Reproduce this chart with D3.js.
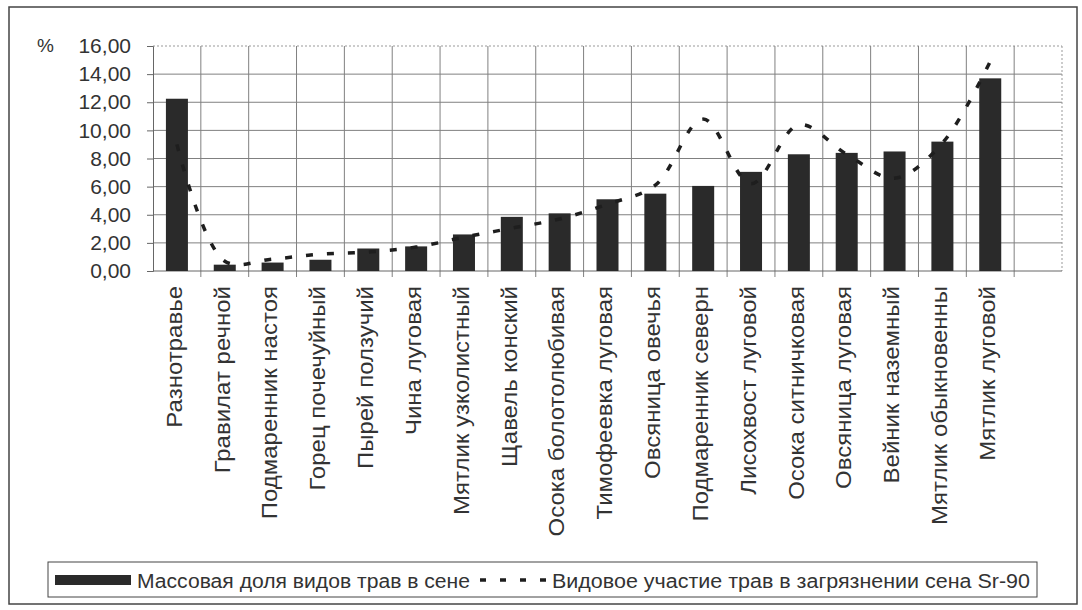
<!DOCTYPE html>
<html>
<head>
<meta charset="utf-8">
<script src="https://cdn.jsdelivr.net/npm/d3@7"></script>
<style>
  body { margin: 0; background: white; }
  text { font-family: "Liberation Sans", Arial, sans-serif; fill: #333; }
</style>
</head>
<body>
<div id="container"></div>
<script>
// grass species (x axis), an empty slot closes the category axis like in the original
let categories = ["Разнотравье", "Гравилат речной", "Подмаренник настоящий", "Горец почечуйный",
  "Пырей ползучий", "Чина луговая", "Мятлик узколистный", "Щавель конский",
  "Осока болотолюбивая", "Тимофеевка луговая", "Овсяница овечья", "Подмаренник северный",
  "Лисохвост луговой", "Осока ситничковая", "Овсяница луговая", "Вейник наземный",
  "Мятлик обыкновенный", "Мятлик луговой"];
// tick labels as printed (long names are cut off in the original)
let tickLabels = ["Разнотравье", "Гравилат речной", "Подмаренник настоя", "Горец почечуйный",
  "Пырей ползучий", "Чина луговая", "Мятлик узколистный", "Щавель конский",
  "Осока болотолюбивая", "Тимофеевка луговая", "Овсяница овечья", "Подмаренник северн",
  "Лисохвост луговой", "Осока ситничковая", "Овсяница луговая", "Вейник наземный",
  "Мятлик обыкновенны", "Мятлик луговой"];
// mass fraction of species in hay, %
let massShare = [12.25, 0.45, 0.6, 0.8, 1.6, 1.75, 2.6, 3.85, 4.1, 5.1, 5.5, 6.05,
  7.05, 8.3, 8.4, 8.5, 9.2, 13.7];
// species share in hay contamination Sr-90, %
let srShare = [9.0, 0.7, 0.85, 1.2, 1.35, 1.7, 2.4, 3.05, 3.7, 4.75, 6.1, 10.8,
  6.2, 10.4, 8.3, 6.6, 9.1, 14.9];
let yTicks = [0, 2, 4, 6, 8, 10, 12, 14, 16];
let legendLabels = ["Массовая доля видов трав в сене", "Видовое участие трав в загрязнении сена Sr-90"];

let w = 1082;
let h = 610;
let plotL = 153, plotR = 1062, plotT = 46, plotB = 271;

let viz = d3.select("#container").append("svg")
    .attr("width", w)
    .attr("height", h)
    .style("background-color", "white");

// outer frame
viz.append("rect")
    .attr("x", 9).attr("y", 7)
    .attr("width", 1068).attr("height", 597)
    .attr("fill", "none")
    .attr("stroke", "#444")
    .attr("stroke-width", 1.5);

let x = d3.scaleBand()
    .domain(categories.concat([""]))
    .range([plotL, plotR])
    .padding(0.54)
    .paddingOuter(0.27);

let slots = d3.scaleBand()
    .domain(categories.concat([""]))
    .range([plotL, plotR]);

let y = d3.scaleLinear()
    .domain([0, 16])
    .range([plotB, plotT]);

// horizontal grid
viz.selectAll(".hgrid").data(yTicks.slice(1)).enter()
  .append("line")
    .attr("class", "hgrid")
    .attr("x1", plotL).attr("x2", plotR)
    .attr("y1", d => y(d)).attr("y2", d => y(d))
    .attr("stroke", d => d == 16 ? "#999" : "#808080")
    .attr("stroke-dasharray", d => d == 16 ? "2,2" : null);

// vertical grid at category boundaries
let bounds = slots.domain().map(d => slots(d)).slice(1);
viz.selectAll(".vgrid").data(bounds).enter()
  .append("line")
    .attr("class", "vgrid")
    .attr("x1", d => d).attr("x2", d => d)
    .attr("y1", plotT).attr("y2", plotB + 6)
    .attr("stroke", "#808080");

// right side dotted
viz.append("line")
    .attr("x1", plotR).attr("x2", plotR)
    .attr("y1", plotT).attr("y2", plotB)
    .attr("stroke", "#999")
    .attr("stroke-dasharray", "2,2");

// y axis
let yAxis = viz.append("g")
    .attr("transform", "translate(" + plotL + ",0)")
    .call(d3.axisLeft(y).tickValues(yTicks).tickSize(6).tickPadding(16)
      .tickFormat(d => d3.format(".2f")(d).replace(".", ",")));
yAxis.select(".domain").attr("stroke", "#666");
yAxis.selectAll(".tick line").attr("stroke", "#666");
yAxis.selectAll("text").style("font-size", "21px").attr("fill", "#333");

viz.append("text")
    .attr("x", 37).attr("y", y(16) + 6)
    .style("font-size", "19px")
    .text("%");

// x axis line
viz.append("line")
    .attr("x1", plotL).attr("x2", plotR)
    .attr("y1", plotB).attr("y2", plotB)
    .attr("stroke", "#666");

// bars
viz.selectAll(".bar").data(massShare).enter()
  .append("rect")
    .attr("class", "bar")
    .attr("x", (d, i) => x(categories[i]))
    .attr("width", x.bandwidth())
    .attr("y", d => y(d))
    .attr("height", d => plotB - y(d))
    .attr("fill", "#2a2a2a");

// dashed smoothed line
let lineMaker = d3.line()
    .x((d, i) => slots(categories[i]) + slots.bandwidth() / 2)
    .y(d => y(d))
    .curve(d3.curveCatmullRom.alpha(0.5));

viz.append("path")
    .attr("d", lineMaker(srShare))
    .attr("fill", "none")
    .attr("stroke", "#1e1e1e")
    .attr("stroke-width", 3.5)
    .attr("stroke-dasharray", "7,14");

// category labels
viz.selectAll(".lbl").data(categories).enter()
  .append("text")
    .attr("class", "lbl")
    .attr("transform", d => "translate(" + (slots(d) + slots.bandwidth() / 2) + ",286) rotate(-90) scale(1,0.9)")
    .attr("text-anchor", "end")
    .attr("dy", "0.22em")
    .style("font-size", "24px")
    .text((d, i) => tickLabels[i]);

// legend
viz.append("rect")
    .attr("x", 48).attr("y", 562)
    .attr("width", 989).attr("height", 35)
    .attr("fill", "white")
    .attr("stroke", "#444");

viz.append("rect")
    .attr("x", 55).attr("y", 575)
    .attr("width", 76).attr("height", 10)
    .attr("fill", "#2a2a2a");

viz.append("text")
    .attr("x", 137).attr("y", 588)
    .attr("textLength", 333)
    .attr("lengthAdjust", "spacingAndGlyphs")
    .style("font-size", "20px")
    .text(legendLabels[0]);

viz.append("line")
    .attr("x1", 480).attr("x2", 548)
    .attr("y1", 580).attr("y2", 580)
    .attr("stroke", "#1e1e1e")
    .attr("stroke-width", 3.5)
    .attr("stroke-dasharray", "6,14");

viz.append("text")
    .attr("x", 552).attr("y", 588)
    .attr("textLength", 478)
    .attr("lengthAdjust", "spacingAndGlyphs")
    .style("font-size", "20px")
    .text(legendLabels[1]);
</script>
</body>
</html>
